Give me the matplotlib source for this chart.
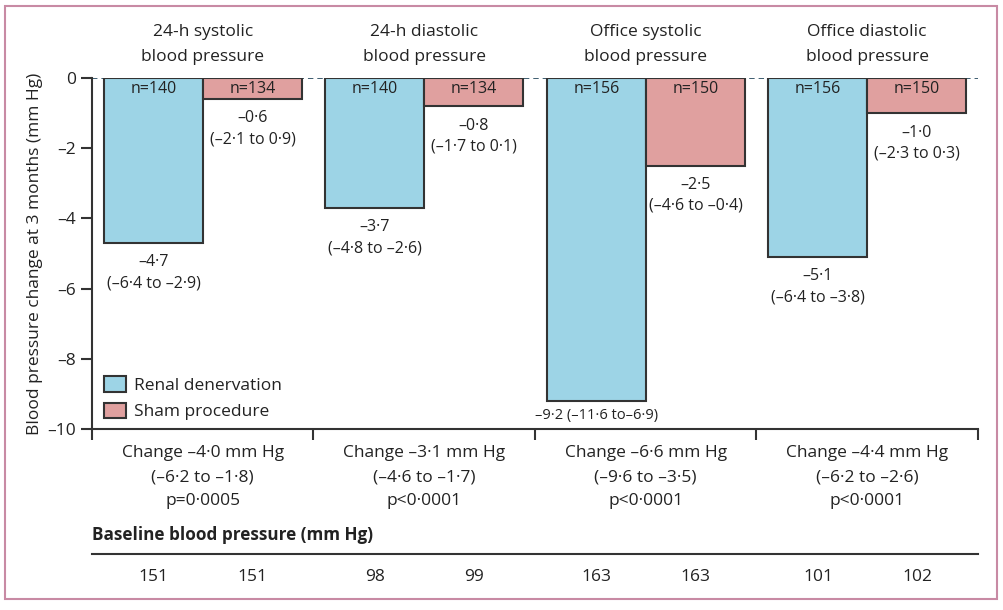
import numpy as np
import matplotlib.pyplot as plt
from matplotlib.patches import Rectangle, Patch

plt.rcParams['font.family'] = ['Open Sans', 'DejaVu Sans']

# Data
groups = ['24-h systolic\nblood pressure', '24-h diastolic\nblood pressure',
          'Office systolic\nblood pressure', 'Office diastolic\nblood pressure']
rdn = [-4.7, -3.7, -9.2, -5.1]
sham = [-0.6, -0.8, -2.5, -1.0]
rdn_ci = ['(–6·4 to –2·9)', '(–4·8 to –2·6)', '(–11·6 to–6·9)', '(–6·4 to –3·8)']
sham_ci = ['(–2·1 to 0·9)', '(–1·7 to 0·1)', '(–4·6 to –0·4)', '(–2·3 to 0·3)']
rdn_n = [140, 140, 156, 156]
sham_n = [134, 134, 150, 150]
diff_text = ['Change –4·0 mm Hg\n(–6·2 to –1·8)\np=0·0005',
             'Change –3·1 mm Hg\n(–4·6 to –1·7)\np<0·0001',
             'Change –6·6 mm Hg\n(–9·6 to –3·5)\np<0·0001',
             'Change –4·4 mm Hg\n(–6·2 to –2·6)\np<0·0001']
base_rdn = [151, 98, 163, 101]
base_sham = [151, 99, 163, 102]

blue = '#9dd4e6'
pink = '#e0a09f'
edge = '#333333'
tcol = '#222222'

def fmt(v):
    return f'{v:.1f}'.replace('-', '–').replace('.', '·')

fig = plt.figure(figsize=(10.04, 6.10), dpi=100)
ax = fig.add_axes([92/1004, 1 - 429/610, 886/1004, 351/610])

x = np.arange(len(groups))
w = 0.447
gap = 0.054
xb = x + gap + w / 2
xs = x + gap + w + w / 2

ax.bar(xb, rdn, width=w, color=blue, edgecolor=edge, linewidth=1.5)
ax.bar(xs, sham, width=w, color=pink, edgecolor=edge, linewidth=1.5)
ax.axhline(0, color='#2f5064', linestyle=(0, (3, 2.2)), linewidth=1.3, zorder=0)

ax.set_xlim(0, 4)
ax.set_ylim(-10, 0)
ax.set_yticks([0, -2, -4, -6, -8, -10])
ax.set_yticklabels(['0', '–2', '–4', '–6', '–8', '–10'])
ax.set_xticks([0, 1, 2, 3, 4])
ax.set_xticklabels([])
ax.tick_params(direction='out', length=8, width=1.5, colors=edge, labelsize=12.5,
               labelcolor=tcol)
for s in ['top', 'right']:
    ax.spines[s].set_visible(False)
for s in ['left', 'bottom']:
    ax.spines[s].set_linewidth(1.5)
    ax.spines[s].set_color(edge)
ax.set_ylabel('Blood pressure change at 3 months (mm Hg)', fontsize=12.5, color=tcol,
              labelpad=3)

for i in range(len(groups)):
    ax.text(x[i] + 0.5, 0.95, groups[i], ha='center', va='center', fontsize=12.5,
            linespacing=1.7, color=tcol, clip_on=False)
    ax.text(xb[i], -0.3, f'n={rdn_n[i]}', ha='center', va='center', fontsize=11.5, color=tcol)
    ax.text(xs[i], -0.3, f'n={sham_n[i]}', ha='center', va='center', fontsize=11.5, color=tcol)
    if rdn[i] < -8:
        ax.text(xb[i], rdn[i] - 0.42, fmt(rdn[i]) + ' ' + rdn_ci[i], ha='center',
                va='center', fontsize=10.5, color=tcol)
    else:
        ax.text(xb[i], rdn[i] - 0.85, fmt(rdn[i]) + '\n' + rdn_ci[i], ha='center',
                va='center', fontsize=11.5, linespacing=1.4, color=tcol)
    ax.text(xs[i], sham[i] - 0.85, fmt(sham[i]) + '\n' + sham_ci[i], ha='center',
            va='center', fontsize=11.5, linespacing=1.4, color=tcol)
    ax.text(x[i] + 0.5, -11.37, diff_text[i], ha='center', va='center', fontsize=12.5,
            linespacing=1.7, color=tcol, clip_on=False)
    ax.text(xb[i], -14.22, str(base_rdn[i]), ha='center', va='center', fontsize=12.5,
            color=tcol, clip_on=False)
    ax.text(xs[i], -14.22, str(base_sham[i]), ha='center', va='center', fontsize=12.5,
            color=tcol, clip_on=False)

ax.text(0, -13.02, 'Baseline blood pressure (mm Hg)', ha='left', va='center',
        fontsize=12.3, fontweight='bold', color=tcol, clip_on=False)
ax.plot([0, 4], [-13.56, -13.56], color=edge, linewidth=1.5, clip_on=False)

handles = [Patch(facecolor=blue, edgecolor=edge, linewidth=1.5, label='Renal denervation'),
           Patch(facecolor=pink, edgecolor=edge, linewidth=1.5, label='Sham procedure')]
ax.legend(handles=handles, loc='lower left', bbox_to_anchor=(0.0035, 0.0), frameon=False,
          fontsize=12.5, handlelength=1.3, handleheight=1.0, handletextpad=0.45,
          labelspacing=0.5, borderaxespad=0.1, labelcolor=tcol)

fig.patches.append(Rectangle((5/1004, 11/610), 992/1004, 593/610, transform=fig.transFigure,
                             fill=False, edgecolor='#c88aa4', linewidth=1.5))

fig.savefig('out.png', dpi=100)
